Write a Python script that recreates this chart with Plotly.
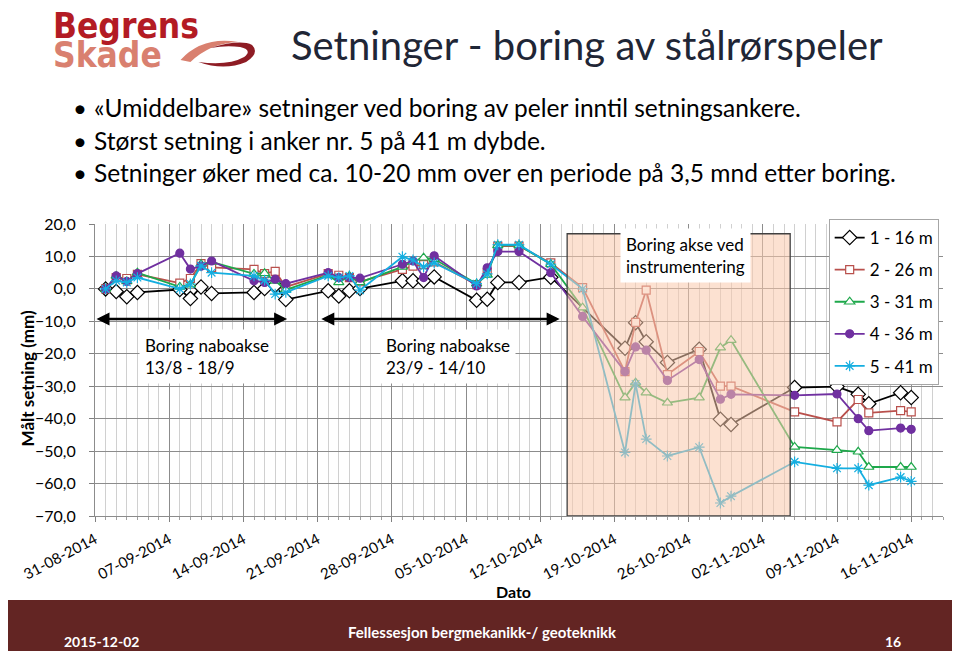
import plotly.graph_objects as go

# DATA
DATES = [
    "2014-09-01", "2014-09-02", "2014-09-03", "2014-09-04", "2014-09-08", "2014-09-09",
    "2014-09-10", "2014-09-11", "2014-09-15", "2014-09-16", "2014-09-17", "2014-09-18",
    "2014-09-22", "2014-09-23", "2014-09-24", "2014-09-25", "2014-09-29", "2014-09-30",
    "2014-10-01", "2014-10-02", "2014-10-06", "2014-10-07", "2014-10-08", "2014-10-10",
    "2014-10-13", "2014-10-16", "2014-10-20", "2014-10-21", "2014-10-22", "2014-10-24",
    "2014-10-27", "2014-10-29", "2014-10-30", "2014-11-05", "2014-11-09", "2014-11-11",
    "2014-11-12", "2014-11-15", "2014-11-16",
]

ANKER_1 = [0.0, -0.8, -2.4, -1.1, -0.2, -3.0, 0.6, -1.4, -1.1, 0.1,
           1.1, -3.3, -0.6, -2.2, -0.6, 0.1, 2.5, 2.5, 2.5, 3.7,
           -3.5, -3.2, 2.0, 2.0, 3.6, None, -18.3, -10.4, -16.3, -22.7,
           -18.6, -40.2, -41.8, -30.4, -30.1, -32.5, -35.4, -32.0, -33.5]

ANKER_2 = [0.0, 3.5, 3.2, 4.5, 1.8, 3.2, 7.8, 6.6, 6.0, 4.7,
           5.4, 0.6, 4.7, 4.2, 3.5, 2.2, 6.0, 7.0, 7.5, 8.3,
           1.3, 5.0, 13.2, 13.2, 8.0, 0.4, -25.5, -10.3, -0.4, -26.4,
           -19.3, -30.0, -30.0, -37.9, -41.0, -34.1, -38.2, -37.5, -37.9]

ANKER_3 = [0.0, 4.0, 2.3, 5.0, 0.6, 1.3, 7.6, 8.3, 4.6, 4.8,
           2.5, -0.3, 4.2, 2.0, 4.0, 2.0, 6.8, 8.5, 9.6, 9.2,
           1.6, 4.3, 13.4, 13.4, 7.6, -5.8, -33.5, -28.9, -32.0, -35.1,
           -33.5, -18.1, -15.8, -48.7, -49.7, -50.2, -54.9, -54.9, -54.9]

ANKER_4 = [0.0, 4.0, 2.3, 4.7, 11.0, 6.1, 7.0, 8.6, 2.5, 2.0,
           3.0, 1.6, 5.0, 3.5, 3.5, 3.3, 7.6, 8.6, 3.5, 10.2,
           0.9, 6.5, 11.5, 11.5, 5.0, -8.5, -25.5, -17.9, -18.9, -28.2,
           -21.8, -34.0, -32.5, -32.8, -32.4, -40.0, -43.7, -42.9, -43.3]

ANKER_5 = [0.0, 2.5, 2.0, 3.5, 0.0, 1.5, 7.1, 5.0, 4.0, 2.7,
           -1.6, -1.1, 4.0, 3.5, 4.0, -0.4, 9.9, 8.9, 6.8, 8.0,
           1.6, 4.6, 13.6, 13.6, 7.6, 0.0, -50.4, -29.3, -46.3, -51.5,
           -48.8, -66.0, -63.9, -53.3, -55.3, -55.3, -60.5, -58.0, -59.3]

SERIES_NAMES = ["1 - 16 m", "2 - 26 m", "3 - 31 m", "4 - 36 m", "5 - 41 m"]

BULLETS = [
    "«Umiddelbare» setninger ved boring av peler inntil setningsankere.",
    "Størst setning i anker nr. 5 på 41 m dybde.",
    "Setninger øker med ca. 10-20 mm over en periode på 3,5 mnd etter boring.",
]

# PERIODS (annotation positions)
NABO_1 = ("2014-08-31", "2014-09-18 03:00")
NABO_2 = ("2014-09-21 05:00", "2014-10-13 20:00")
BORING = ("2014-10-14 13:00", "2014-11-04 14:00")

FONT = "Lato, 'Open Sans', sans-serif"
LOGO_FONT = "'Liberation Sans Narrow', 'DejaVu Sans Condensed', sans-serif"

# page body has an 8 px margin, so the figure is 8 px smaller
OFF = 8
W, H = 960, 651
PL, PR, PT, PB = 90, 943, 224, 516


def px(x):
    return (x - PL) / (PR - PL)


def py(y):
    return (PB - y) / (PB - PT)


def path(cmds):
    out = ""
    for c in cmds:
        if isinstance(c, str):
            out += c + " "
        else:
            out += "%.5f,%.5f " % (px(c[0]), py(c[1]))
    return out.strip()


fig = go.Figure()

styles = [
    dict(color="#000000", symbol="diamond", fill="white", size=11),
    dict(color="#B9504C", symbol="square", fill="white", size=8),
    dict(color="#1EA84B", symbol="triangle-up", fill="white", size=9),
    dict(color="#7030A0", symbol="circle", fill="#7030A0", size=8),
    dict(color="#14AEE0", symbol="asterisk-open", fill="#14AEE0", size=9),
]

for name, values, st in zip(SERIES_NAMES, [ANKER_1, ANKER_2, ANKER_3, ANKER_4, ANKER_5], styles):
    fig.add_trace(
        go.Scatter(
            x=DATES,
            y=values,
            name=name,
            legendgroup=name,
            mode="lines+markers",
            connectgaps=True,
            line=dict(color=st["color"], width=1.8),
            marker=dict(
                symbol=st["symbol"],
                size=st["size"],
                color=st["fill"],
                line=dict(color=st["color"], width=1.2)
            )
        )
    )

shapes = [
    # boring period
    dict(
        type="rect", xref="x", yref="y",
        x0=BORING[0], x1=BORING[1], y0=-70, y1=17,
        fillcolor="rgba(249,201,171,0.55)",
        line=dict(color="#404040", width=1.3),
        layer="above"
    ),
    # footer band
    dict(
        type="rect", xref="paper", yref="paper",
        x0=px(0), x1=px(W + 10), y0=py(H + 10), y1=py(600),
        fillcolor="#632523", line=dict(width=0), layer="below"
    ),
    # logo swoosh
    dict(
        type="path", xref="paper", yref="paper",
        path=path(["M", (176, 60), "Q", (198, 36), (234, 42), "Q", (206, 43), (186, 62), "Z"]),
        fillcolor="#D9806F", line=dict(width=0)
    ),
    dict(
        type="path", xref="paper", yref="paper",
        path=path(["M", (206, 48), "Q", (236, 39), (248, 45), "Q", (256, 53), (242, 62),
                   "Q", (220, 71), (194, 62), "Q", (224, 66), (240, 57),
                   "Q", (249, 50), (236, 47), "Q", (222, 45), (206, 48), "Z"]),
        fillcolor="#8E1C24", line=dict(width=0)
    ),
]

annotations = [
    # logo
    dict(xref="paper", yref="paper", x=px(46), y=py(26), xanchor="left", yanchor="middle",
         text="<b>Begrens</b>", showarrow=False,
         font=dict(family=LOGO_FONT, size=35, color="#B31B24")),
    dict(xref="paper", yref="paper", x=px(46), y=py(55), xanchor="left", yanchor="middle",
         text="<b>Skade</b>", showarrow=False,
         font=dict(family=LOGO_FONT, size=35, color="#D9806F")),
    # title
    dict(xref="paper", yref="paper", x=px(585), y=py(45), xanchor="center", yanchor="middle",
         text="Setninger - boring av stålrørspeler", showarrow=False,
         font=dict(family=FONT, size=40, color="#1F2636")),
    # axis titles
    dict(xref="paper", yref="paper", x=px(22), y=py(378), xanchor="center", yanchor="middle",
         text="<b>Målt setning (mm)</b>", textangle=-90, showarrow=False,
         font=dict(family=FONT, size=17, color="black")),
    dict(xref="paper", yref="paper", x=px(511), y=py(591), xanchor="center", yanchor="middle",
         text="<b>Dato</b>", showarrow=False,
         font=dict(family=FONT, size=16, color="black")),
    # period arrows
    dict(xref="x", yref="y", axref="x", ayref="y",
         x=NABO_1[1], y=-9.3, ax=NABO_1[0], ay=-9.3, text="",
         showarrow=True, arrowhead=2, arrowside="end+start", arrowsize=1, arrowwidth=2.6,
         arrowcolor="black"),
    dict(xref="x", yref="y", axref="x", ayref="y",
         x=NABO_2[1], y=-9.3, ax=NABO_2[0], ay=-9.3, text="",
         showarrow=True, arrowhead=2, arrowside="end+start", arrowsize=1, arrowwidth=2.6,
         arrowcolor="black"),
    # text boxes
    dict(xref="paper", yref="paper", x=px(134), y=py(356), xanchor="left", yanchor="middle",
         text="Boring naboakse<br>13/8 - 18/9", align="left", showarrow=False,
         bgcolor="white", borderpad=5,
         font=dict(family=FONT, size=17, color="black")),
    dict(xref="paper", yref="paper", x=px(377), y=py(356), xanchor="left", yanchor="middle",
         text="Boring naboakse<br>23/9 - 14/10", align="left", showarrow=False,
         bgcolor="white", borderpad=5,
         font=dict(family=FONT, size=17, color="black")),
    dict(xref="paper", yref="paper", x=px(618), y=py(255), xanchor="left", yanchor="middle",
         text="Boring akse ved<br>instrumentering", align="left", showarrow=False,
         bgcolor="white", borderpad=5,
         font=dict(family=FONT, size=17, color="black")),
    # footer
    dict(xref="paper", yref="paper", x=px(57), y=py(641), xanchor="left", yanchor="middle",
         text="<b>2015-12-02</b>", showarrow=False,
         font=dict(family=FONT, size=14, color="white")),
    dict(xref="paper", yref="paper", x=px(480), y=py(632), xanchor="center", yanchor="middle",
         text="<b>Fellessesjon bergmekanikk-/ geoteknikk</b>", showarrow=False,
         font=dict(family=FONT, size=15, color="white")),
    dict(xref="paper", yref="paper", x=px(893), y=py(641), xanchor="center", yanchor="middle",
         text="<b>16</b>", showarrow=False,
         font=dict(family=FONT, size=14, color="white")),
]

# bullets
for i, line in enumerate(BULLETS):
    yy = 108 + i * 32
    annotations.append(
        dict(xref="paper", yref="paper", x=px(66), y=py(yy), xanchor="left", yanchor="middle",
             text="•", showarrow=False, font=dict(family=FONT, size=24, color="black"))
    )
    annotations.append(
        dict(xref="paper", yref="paper", x=px(87), y=py(yy), xanchor="left", yanchor="middle",
             text=line, showarrow=False, font=dict(family=FONT, size=24.5, color="black"))
    )

fig.update_layout(
    width=W - OFF,
    height=H - OFF,
    margin=dict(l=PL - OFF, r=W - PR, t=PT - OFF, b=H - PB, pad=0),
    paper_bgcolor="white",
    plot_bgcolor="white",
    separators=",.",
    font=dict(family=FONT, size=15, color="black"),
    shapes=shapes,
    annotations=annotations,
    legend=dict(
        x=px(828), y=py(219), xanchor="left", yanchor="top",
        bgcolor="white", bordercolor="#A6A6A6", borderwidth=1,
        font=dict(family=FONT, size=17, color="black"),
        traceorder="grouped", tracegroupgap=7,
        itemwidth=30
    )
)

fig.update_xaxes(
    type="date",
    range=["2014-08-31", "2014-11-19"],
    tick0="2014-08-31",
    dtick=7 * 86400000,
    tickformat="%d-%m-%Y",
    tickangle=-28,
    tickfont=dict(family=FONT, size=15, color="black"),
    ticks="outside",
    ticklen=5,
    tickcolor="#808080",
    ticklabelstandoff=3,
    showgrid=True,
    gridcolor="#8C8C8C",
    gridwidth=1,
    showline=True,
    linecolor="#8C8C8C",
    minor=dict(dtick=86400000, showgrid=True, gridcolor="#D0D0D0", ticks="outside",
               ticklen=3, tickcolor="#A0A0A0"),
    zeroline=False
)

fig.update_yaxes(
    range=[-70, 20],
    dtick=10,
    tickformat=".1f",
    tickfont=dict(family=FONT, size=16, color="black"),
    ticks="outside",
    ticklen=5,
    tickcolor="#808080",
    ticklabelstandoff=10,
    showgrid=True,
    gridcolor="#8C8C8C",
    gridwidth=1,
    showline=True,
    linecolor="#8C8C8C",
    zeroline=False
)

fig.write_html("out.html")
